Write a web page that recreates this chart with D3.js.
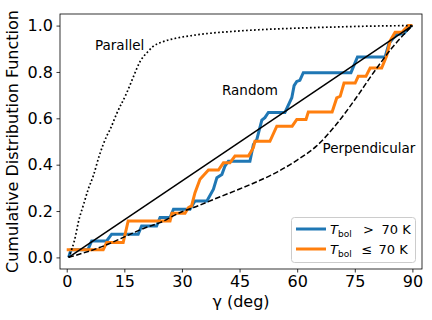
<!DOCTYPE html>
<html><head><meta charset="utf-8">
<script src="https://cdn.jsdelivr.net/npm/d3@7"></script>
<style>body{margin:0;background:#fff}svg{display:block;font-family:"DejaVu Sans",sans-serif}</style>
</head><body><svg id="c" width="432" height="320"></svg>
<script>
const xTicks = [0, 15, 30, 45, 60, 75, 90];
const yTicks = [0.0, 0.2, 0.4, 0.6, 0.8, 1.0];

const blueX = [0.5,1.1,5.5,6.5,10.4,11.7,18.6,19.5,23.4,24.3,26.9,27.8,32.1,33.4,36.5,38.2,39.1,40.4,41.2,42.1,47.7,48.6,49.5,50.8,51.6,52.5,56.8,58.6,59.2,59.9,60.7,61.6,74.0,75.7,82.9,83.9,85.1,86.0,87.8,89.4,90];
const blueY = [0.0,0.033,0.033,0.071,0.071,0.100,0.100,0.136,0.136,0.172,0.172,0.208,0.208,0.243,0.243,0.294,0.344,0.358,0.394,0.415,0.415,0.487,0.509,0.592,0.603,0.625,0.625,0.689,0.741,0.759,0.764,0.797,0.797,0.865,0.865,0.923,0.947,0.962,0.966,0.997,1.0];

const orangeX = [0,9.5,10.4,14.7,16.0,26.9,27.4,30.8,31.7,32.5,33.4,34.7,36.9,39.5,40.8,42.5,43.8,47.3,48.6,49.0,52.9,54.7,58.7,59.9,62.3,62.9,69.1,70.3,71.2,72.2,75.1,75.9,77.9,79.0,82.0,83.3,84.2,85.5,87.3,88.9,90];
const orangeY = [0.033,0.033,0.064,0.064,0.157,0.157,0.190,0.190,0.215,0.222,0.279,0.337,0.377,0.377,0.408,0.408,0.437,0.437,0.473,0.501,0.501,0.566,0.566,0.595,0.595,0.627,0.627,0.688,0.695,0.752,0.752,0.781,0.781,0.817,0.817,0.870,0.934,0.971,0.971,1.0,1.0];

const randomX = [0.5, 90];
const randomY = [0.0, 1.0];

const perpX = [0.5,10,15.6,20,24.3,30,33,40,45,50,55,60,65,70,75,80,85,90];
const perpY = [0.0,0.052,0.093,0.125,0.15,0.197,0.215,0.262,0.295,0.33,0.37,0.42,0.48,0.57,0.68,0.80,0.91,1.0];

const parX = [0.5,2.3,3.0,4.4,5.6,6.9,8.5,10.4,11.3,13,15.6,17.5,19.1,20,21,22.5,25,28.6,33,37.3,42.5,50,60,70,80,90];
const parY = [0.0,0.093,0.15,0.229,0.294,0.351,0.44,0.523,0.552,0.62,0.709,0.785,0.845,0.867,0.885,0.91,0.93,0.946,0.958,0.967,0.974,0.982,0.989,0.994,0.998,1.0];

const seriesLabels = ["T_bol > 70 K", "T_bol ≤ 70 K"];
const colors = ["#1f77b4", "#ff7f0e"];

const svg = d3.select("#c");
const L = 60, R = 422, T = 14, B = 269;
const x = d3.scaleLinear().domain([-1.75, 92.5]).range([L, R]);
const y = d3.scaleLinear().domain([-0.05, 1.05]).range([B, T]);

const zip = (a, b) => a.map((v, i) => [v, b[i]]);
const lin = d3.line().x(d => x(d[0])).y(d => y(d[1]));
const smooth = d3.line().x(d => x(d[0])).y(d => y(d[1])).curve(d3.curveMonotoneX);

const g = svg.append("g");
g.append("path").attr("d", lin(zip(blueX, blueY))).attr("fill", "none").attr("stroke", colors[0]).attr("stroke-width", 3).attr("stroke-linejoin", "miter");
g.append("path").attr("d", lin(zip(orangeX, orangeY))).attr("fill", "none").attr("stroke", colors[1]).attr("stroke-width", 3).attr("stroke-linejoin", "miter");

g.append("path").attr("d", lin(zip(randomX, randomY))).attr("fill", "none").attr("stroke", "#000").attr("stroke-width", 1.5);
g.append("path").attr("d", smooth(zip(perpX, perpY))).attr("fill", "none").attr("stroke", "#000").attr("stroke-width", 1.5).attr("stroke-dasharray", "5.5,2.4");
g.append("path").attr("d", smooth(zip(parX, parY))).attr("fill", "none").attr("stroke", "#000").attr("stroke-width", 1.7).attr("stroke-dasharray", "1.7,2.3");

// annotations
const ann = [["Parallel", 95, 50], ["Random", 222, 95], ["Perpendicular", 322.5, 153]];
ann.forEach(a => svg.append("text").attr("x", a[1]).attr("y", a[2]).attr("font-size", 13.5).attr("fill", "#000").text(a[0]));

// axes
const xa = svg.append("g").attr("transform", `translate(0,${B})`)
  .call(d3.axisBottom(x).tickValues(xTicks).tickFormat(d3.format("d")).tickSize(3.5).tickPadding(3.5));
const ya = svg.append("g").attr("transform", `translate(${L},0)`)
  .call(d3.axisLeft(y).tickValues(yTicks).tickFormat(d3.format(".1f")).tickSize(3.5).tickPadding(3.5));
[xa, ya].forEach(a => {
  a.select(".domain").remove();
  a.selectAll("line").attr("stroke", "#000").attr("stroke-width", 0.8);
  a.selectAll("text").attr("font-size", 16).attr("fill", "#000").attr("font-family", "DejaVu Sans");
});
svg.append("rect").attr("x", L).attr("y", T).attr("width", R - L).attr("height", B - T)
  .attr("fill", "none").attr("stroke", "#000").attr("stroke-width", 0.8);

svg.append("text").attr("x", (L + R) / 2 + 0).attr("y", 307).attr("text-anchor", "middle").attr("font-size", 16).text("γ (deg)");
svg.append("text").attr("transform", `translate(18,${(T + B) / 2}) rotate(-90)`).attr("text-anchor", "middle").attr("font-size", 16).text("Cumulative Distribution Function");

// legend
const lg = svg.append("g");
lg.append("rect").attr("x", 291.5).attr("y", 217.5).attr("width", 124).attr("height", 45).attr("rx", 3)
  .attr("fill", "#fff").attr("fill-opacity", 0.8).attr("stroke", "#cccccc").attr("stroke-width", 1);
const ops = [">", "≤"];
[0, 1].forEach(i => {
  const yy = 229 + i * 20;
  lg.append("line").attr("x1", 296).attr("x2", 326).attr("y1", yy).attr("y2", yy).attr("stroke", colors[i]).attr("stroke-width", 3);
  const t = lg.append("text").attr("x", 330).attr("y", yy + 5).attr("font-size", 13).attr("fill", "#000");
  t.append("tspan").attr("font-style", "italic").text("T");
  t.append("tspan").attr("font-size", 9).attr("dy", 2.5).text("bol");
  lg.append("text").attr("x", i === 0 ? 363 : 361.5).attr("y", yy + 5).attr("font-size", 13).text(ops[i]);
  lg.append("text").attr("x", i === 0 ? 381.5 : 378.5).attr("y", yy + 5).attr("font-size", 13).text("70 K");
});
</script></body></html>
